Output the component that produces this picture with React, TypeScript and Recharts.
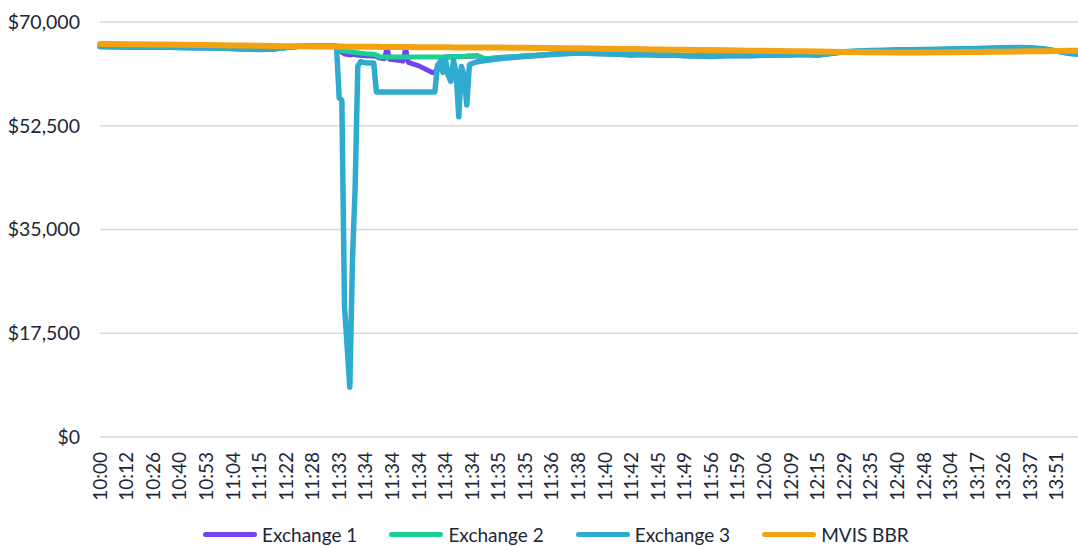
import { CartesianGrid, Legend, Line, LineChart, XAxis, YAxis } from "recharts";

const FONT = "Lato, 'Open Sans', sans-serif";
const TEXT = "#1d2738";

// category labels shown under the axis (every 10th sample)
const timeLabels = [
  "10:00", "10:12", "10:26", "10:40", "10:53", "11:04", "11:15", "11:22", "11:28", "11:33",
  "11:34", "11:34", "11:34", "11:34", "11:34", "11:35", "11:35", "11:36", "11:38", "11:40",
  "11:42", "11:45", "11:49", "11:56", "11:59", "12:06", "12:09", "12:15", "12:29", "12:35",
  "12:40", "12:48", "13:04", "13:17", "13:26", "13:37", "13:51",
];

// sample number of each reading
const seq = [
  0, 5, 10, 15, 20, 25, 30, 35, 40, 45, 50, 55, 60, 65, 70, 75, 80, 85, 88,
  89, 90, 91, 92, 94, 95, 96, 97, 98, 100, 103, 104, 105, 107, 108, 109, 113, 114, 115, 116, 120,
  125, 126, 127, 128, 129, 130, 131, 132, 133, 134, 135, 136, 137, 138, 139, 140, 142,
  145, 150, 155, 160, 165, 170, 175, 180, 185, 190, 195, 200, 205, 210, 215, 220, 225, 230, 235, 240,
  245, 250, 255, 260, 265, 270, 275, 280, 285, 290, 295, 300, 305, 310, 315, 320, 325, 330, 335, 340,
  345, 350, 355, 360, 365, 368,
];

const exchange1 = [
  65850, 65800, 65800, 65750, 65750, 65700, 65700, 65650, 65600, 65600, 65500, 65450, 65400, 65450, 65700, 65850, 65950, 65950, 65950,
  65900, 65300, 64900, 64600, 64450, 64500, 64500, 64400, 64400, 64300, 64250, 64200, 63950, 63800, 65600, 63700, 63500, 63400, 65500, 63200, 62600,
  61500, 61500, 62300, 63300, 63900, 64100, 64100, 64150, 64100, 64150, 64200, 64150, 64200, 64200, 64250, 64200, 64300,
  63750, 63950, 64100, 64250, 64400, 64550, 64700, 64750, 64700, 64650, 64550, 64450, 64500, 64400, 64450, 64300, 64250, 64250, 64300, 64350,
  64300, 64400, 64450, 64450, 64500, 64450, 64700, 64950, 65050, 65150, 65200, 65250, 65250, 65300, 65350, 65400, 65450, 65500, 65550, 65600,
  65650, 65600, 65450, 65050, 64700, 64600,
];

const exchange2 = [
  65800, 65850, 65800, 65800, 65700, 65750, 65650, 65650, 65650, 65550, 65550, 65400, 65350, 65450, 65650, 65900, 65900, 66000, 65950,
  65900, 65300, 65150, 65100, 65000, 64950, 64850, 64800, 64750, 64650, 64550, 64450, 64150, 64100, 64100, 64100, 64100, 64100, 64100, 64100, 64100,
  64100, 64100, 64100, 64100, 64100, 64100, 64150, 64150, 64150, 64200, 64150, 64200, 64200, 64250, 64250, 64300, 64300,
  63800, 64000, 64150, 64300, 64450, 64600, 64700, 64750, 64700, 64650, 64600, 64500, 64500, 64450, 64450, 64350, 64300, 64300, 64350, 64350,
  64350, 64400, 64450, 64500, 64500, 64500, 64700, 64950, 65050, 65150, 65200, 65250, 65300, 65300, 65350, 65400, 65450, 65500, 65550, 65600,
  65650, 65600, 65450, 65100, 64700, 64600,
];

const exchange3 = [
  65850, 65850, 65800, 65800, 65750, 65750, 65700, 65650, 65650, 65600, 65550, 65450, 65350, 65400, 65700, 65900, 65950, 66000, 65950,
  65900, 57200, 56800, 22000, 8400, 30000, 42000, 62500, 63300, 63100, 63100, 58200, 58200, 58200, 58200, 58200, 58200, 58200, 58200, 58200, 58200,
  58200, 58200, 62700, 63300, 61500, 63700, 61000, 60000, 63500, 61500, 54000, 62500, 61000, 56000, 62800, 63000, 63300,
  63500, 63800, 64000, 64200, 64350, 64500, 64650, 64750, 64700, 64650, 64550, 64450, 64500, 64400, 64450, 64300, 64250, 64200, 64300, 64350,
  64300, 64400, 64450, 64450, 64500, 64400, 64700, 65000, 65100, 65200, 65250, 65300, 65300, 65350, 65400, 65450, 65500, 65550, 65600, 65650,
  65700, 65650, 65500, 65100, 64700, 64600,
];

const mvisBbr = [
  66300, 66280, 66260, 66240, 66220, 66200, 66170, 66140, 66110, 66080, 66050, 66020, 65990, 65960, 65930, 65900, 65880, 65860, 65850,
  65850, 65850, 65850, 65840, 65840, 65840, 65830, 65830, 65830, 65820, 65810, 65810, 65800, 65800, 65790, 65790, 65780, 65780, 65770, 65770, 65760,
  65740, 65740, 65730, 65730, 65730, 65720, 65720, 65720, 65710, 65710, 65710, 65700, 65700, 65700, 65700, 65700, 65690,
  65690, 65680, 65670, 65650, 65630, 65610, 65590, 65570, 65530, 65500, 65460, 65430, 65400, 65370, 65340, 65310, 65280, 65260, 65230, 65200,
  65170, 65140, 65110, 65080, 65050, 65020, 64990, 64960, 64930, 64900, 64880, 64860, 64860, 64870, 64890, 64910, 64930, 64950, 64970, 64990,
  65020, 65050, 65080, 65110, 65140, 65150,
];

const yTicks = [0, 17500, 35000, 52500, 70000];
const seriesNames = ["Exchange 1", "Exchange 2", "Exchange 3", "MVIS BBR"];

const data = seq.map((s, i) => ({
  seq: s,
  ex1: exchange1[i],
  ex2: exchange2[i],
  ex3: exchange3[i],
  bbr: mvisBbr[i],
}));
const xTicks = timeLabels.map((_, i) => i * 10);

const series = [
  { key: "ex1", name: seriesNames[0], color: "#7443f0", width: 5 },
  { key: "ex2", name: seriesNames[1], color: "#1ccf93", width: 5 },
  { key: "ex3", name: seriesNames[2], color: "#30abd0", width: 5.5 },
  { key: "bbr", name: seriesNames[3], color: "#f3a212", width: 6 },
];

function TimeTick({ x, y, payload }: any) {
  return (
    <text
      x={0}
      y={0}
      dy="0.35em"
      transform={`translate(${x},${y}) rotate(-90)`}
      textAnchor="end"
      fill={TEXT}
      fontSize={19}
      fontFamily={FONT}
    >
      {timeLabels[Math.round(payload.value / 10)]}
    </text>
  );
}

function LegendRow() {
  return (
    <div
      style={{
        display: "flex",
        alignItems: "center",
        paddingLeft: 203,
        height: 24,
        fontFamily: FONT,
        fontSize: 19,
        color: TEXT,
        whiteSpace: "nowrap",
      }}
    >
      {series.map((s) => (
        <div key={s.key} style={{ display: "flex", alignItems: "center", marginRight: 32 }}>
          <span style={{ display: "inline-block", width: 54, height: 5, borderRadius: 3, background: s.color, marginRight: 5 }} />
          <span>{s.name}</span>
        </div>
      ))}
    </div>
  );
}

export default function App() {
  return (
    <div style={{ position: "absolute", left: 0, top: 0, width: 1078, height: 546, background: "#fff", fontFamily: FONT }}>
      <LineChart width={1078} height={546} data={data} margin={{ top: 22, right: 0, bottom: 0, left: 0 }}>
        <CartesianGrid vertical={false} stroke="#d9d9d9" strokeWidth={1.5} />
        <XAxis
          type="number"
          dataKey="seq"
          domain={[0, 368]}
          ticks={xTicks}
          interval={0}
          tick={<TimeTick />}
          tickLine={false}
          axisLine={false}
          tickMargin={9}
          height={109}
        />
        <YAxis
          domain={[0, 70000]}
          ticks={yTicks}
          tickFormatter={(v: number) => "$" + v.toLocaleString("en-US")}
          tick={{ fill: TEXT, fontSize: 19.5, fontFamily: FONT }}
          tickLine={false}
          axisLine={false}
          tickMargin={14}
          width={100}
        />
        {series.map((s) => (
          <Line
            key={s.key}
            type="linear"
            dataKey={s.key}
            name={s.name}
            stroke={s.color}
            strokeWidth={s.width}
            strokeLinejoin="round"
            strokeLinecap="round"
            dot={false}
            activeDot={false}
            isAnimationActive={false}
          />
        ))}
        <Legend
          layout="horizontal"
          verticalAlign="middle"
          align="center"
          wrapperStyle={{ top: 522, left: 0, width: 1078, height: 24 }}
          content={() => <LegendRow />}
        />
      </LineChart>
    </div>
  );
}
